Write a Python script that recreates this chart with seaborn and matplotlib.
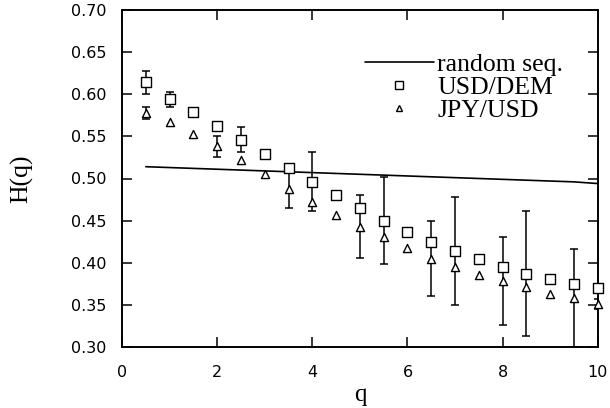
import matplotlib
matplotlib.use("Agg")
import matplotlib.pyplot as plt
import seaborn as sns
import numpy as np
import pandas as pd
from matplotlib.lines import Line2D

q = [0.5, 1.0, 1.5, 2.0, 2.5, 3.0, 3.5, 4.0, 4.5, 5.0, 5.5, 6.0, 6.5, 7.0, 7.5, 8.0, 8.5, 9.0, 9.5, 10.0]
usd_dem = [0.614, 0.594, 0.579, 0.562, 0.546, 0.529, 0.513, 0.496, 0.480, 0.465, 0.450, 0.437,
           0.425, 0.414, 0.404, 0.395, 0.387, 0.381, 0.375, 0.370]
usd_dem_err = [0.014, 0.009, 0, 0, 0.015, 0, 0, 0.035, 0, 0, 0.052, 0,
               0, 0.064, 0, 0, 0.074, 0, 0, 0]
jpy_usd = [0.578, 0.567, 0.553, 0.538, 0.522, 0.505, 0.488, 0.472, 0.457, 0.443, 0.430, 0.417,
           0.405, 0.395, 0.385, 0.378, 0.371, 0.363, 0.358, 0.351]
jpy_usd_err = [0.007, 0, 0, 0.012, 0, 0, 0.023, 0, 0, 0.037, 0, 0,
               0.045, 0, 0, 0.052, 0, 0, 0.058, 0.006]
random_seq = [0.514, 0.513, 0.512, 0.511, 0.510, 0.509, 0.508, 0.507, 0.506, 0.505, 0.504, 0.503,
              0.502, 0.501, 0.500, 0.499, 0.498, 0.497, 0.496, 0.494]
x_ticks = [0, 2, 4, 6, 8, 10]
y_ticks = [0.30, 0.35, 0.40, 0.45, 0.50, 0.55, 0.60, 0.65, 0.70]

df = pd.DataFrame({"q": q, "usd": usd_dem, "usd_err": usd_dem_err,
                   "jpy": jpy_usd, "jpy_err": jpy_usd_err, "rnd": random_seq})

sns.set_style("ticks")
plt.rcParams['font.family'] = ['DejaVu Sans']
plt.rcParams.update({"text.color": "black", "axes.labelcolor": "black",
                     "xtick.color": "black", "ytick.color": "black", "axes.edgecolor": "black"})

fig = plt.figure(figsize=(6.1, 4.08), dpi=100)
ax = fig.add_axes([0.2, 0.1495, 0.78, 0.826])

sns.lineplot(data=df, x="q", y="rnd", ax=ax, color="black", lw=1.2, legend=False)

eu = df[df.usd_err > 0]
ax.errorbar(eu.q, eu.usd, yerr=eu.usd_err, fmt="none", ecolor="black", elinewidth=1.1, capsize=3, capthick=1.1)
ej = df[df.jpy_err > 0]
ax.errorbar(ej.q, ej.jpy, yerr=ej.jpy_err, fmt="none", ecolor="black", elinewidth=1.1, capsize=3, capthick=1.1)

sns.scatterplot(data=df, x="q", y="usd", ax=ax, marker="s", s=48, facecolor="white",
                edgecolor="black", linewidth=1.0, zorder=5, legend=False, clip_on=False)
sns.scatterplot(data=df, x="q", y="jpy", ax=ax, marker="^", s=34, facecolor="white",
                edgecolor="black", linewidth=1.0, zorder=5, legend=False, clip_on=False)

ax.set_xlim(0, 10)
ax.set_ylim(0.30, 0.70)
ax.set_xticks(x_ticks)
ax.set_xticklabels([str(v) for v in x_ticks])
ax.set_yticks(y_ticks)
ax.set_yticklabels([f"{v:.2f}" for v in y_ticks])
ax.tick_params(direction="in", top=True, right=True, length=7, width=1.1, labelsize=11.5,
               colors="black")
ax.tick_params(axis="y", pad=11)
ax.tick_params(axis="x", pad=13)
for sp in ax.spines.values():
    sp.set_linewidth(1.4)
    sp.set_visible(True)
    sp.set_color("black")

ax.set_xlabel("q", family="Liberation Serif", fontsize=18, labelpad=3, color="black")
ax.set_ylabel("H(q)", family="Liberation Serif", fontsize=18.5, labelpad=27, color="black")

handles = [Line2D([], [], color="black", lw=1.2),
           Line2D([], [], color="black", marker="s", ls="none", markerfacecolor="white", markersize=6, markeredgewidth=1.0),
           Line2D([], [], color="black", marker="^", ls="none", markerfacecolor="white", markersize=5, markeredgewidth=1.0)]
leg = ax.legend(handles, ["random seq.", "USD/DEM", "JPY/USD"], frameon=False, loc="upper left",
                bbox_to_anchor=(0.51, 0.871), prop={"family": "Liberation Serif", "size": 18.5},
                handlelength=2.7, handletextpad=0.12, labelspacing=0.0, borderpad=0, borderaxespad=0)
for t in leg.get_texts():
    t.set_color("black")

fig.savefig("out.png", dpi=100)
